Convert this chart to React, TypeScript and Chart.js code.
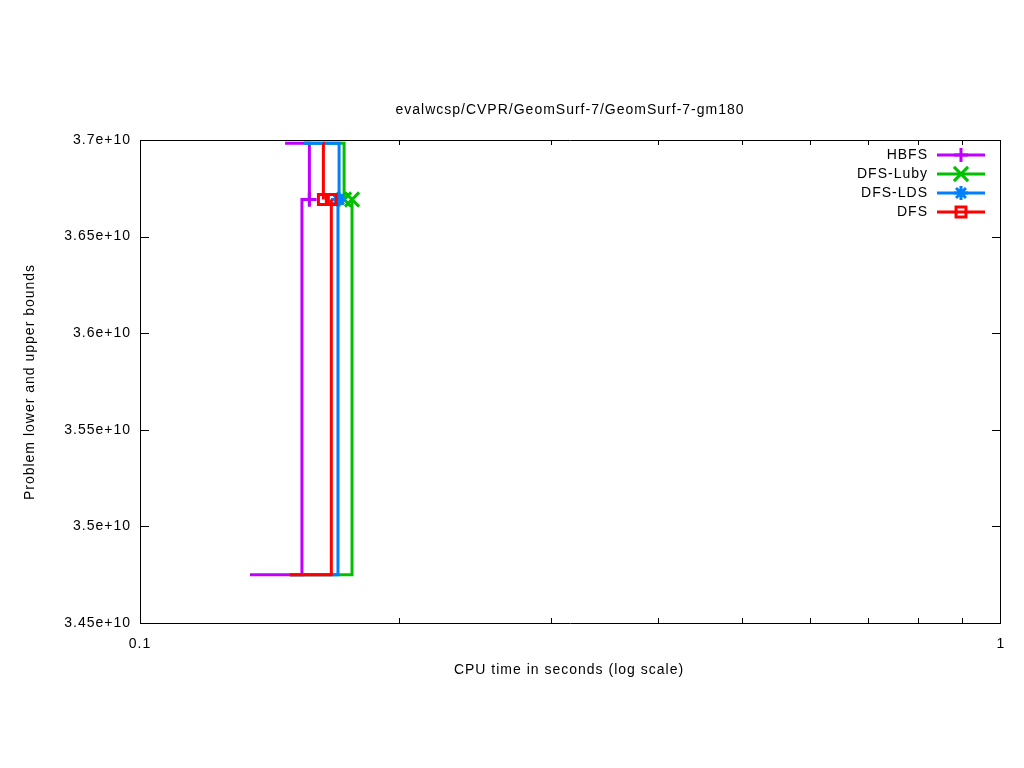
import React, { useEffect, useRef } from 'react';
import { Chart, registerables } from 'chart.js';

Chart.register(...registerables);

const TITLE = 'evalwcsp/CVPR/GeomSurf-7/GeomSurf-7-gm180';
const X_TITLE = 'CPU time in seconds (log scale)';
const Y_TITLE = 'Problem lower and upper bounds';

const solverNames = ['HBFS', 'DFS-Luby', 'DFS-LDS', 'DFS'];
const solverColors = ['#c000ff', '#00c000', '#0080ff', '#ff0000'];
const solverMarkers = ['cross', 'crossRot', 'star', 'rect'];
const solverMarkerRadius = [7, 10, 7, 7];

// upper / lower bound step series (time in seconds, bound value)
const hbfsUpperTimes = [0.1474, 0.1573];
const hbfsUpperBounds = [3.6983e10, 3.6692e10];
const hbfsLowerTimes = [0.1342, 0.1542, 0.1573];
const hbfsLowerBounds = [3.475e10, 3.6692e10, 3.6692e10];

const lubyUpperTimes = [0.155, 0.1726];
const lubyUpperBounds = [3.6983e10, 3.6692e10];
const lubyLowerTimes = [0.1493, 0.1763];
const lubyLowerBounds = [3.475e10, 3.6692e10];

const ldsUpperTimes = [0.155, 0.1703];
const ldsUpperBounds = [3.6983e10, 3.6692e10];
const ldsLowerTimes = [0.1493, 0.1698];
const ldsLowerBounds = [3.475e10, 3.6692e10];

const dfsUpperTimes = [0.1632, 0.1633];
const dfsUpperBounds = [3.6983e10, 3.6692e10];
const dfsLowerTimes = [0.1493, 0.1668];
const dfsLowerBounds = [3.475e10, 3.6692e10];

const xTicks = [0.1, 1];
const xTickLabels = ['0.1', '1'];
const xMinorTicks = [0.2, 0.3, 0.4, 0.5, 0.6, 0.7, 0.8, 0.9];
const yTicks = [3.45e10, 3.5e10, 3.55e10, 3.6e10, 3.65e10, 3.7e10];
const yTickLabels = ['3.45e+10', '3.5e+10', '3.55e+10', '3.6e+10', '3.65e+10', '3.7e+10'];

const FONT = '14px "Liberation Sans", Arial, sans-serif';
const LINE_W = 3;

const seriesData = [
  [hbfsUpperTimes, hbfsUpperBounds, hbfsLowerTimes, hbfsLowerBounds],
  [lubyUpperTimes, lubyUpperBounds, lubyLowerTimes, lubyLowerBounds],
  [ldsUpperTimes, ldsUpperBounds, ldsLowerTimes, ldsLowerBounds],
  [dfsUpperTimes, dfsUpperBounds, dfsLowerTimes, dfsLowerBounds],
];

function toPoints(xs: number[], ys: number[]) {
  return xs.map((x, i) => ({ x, y: ys[i] }));
}

function drawMarker(ctx: CanvasRenderingContext2D, style: string, x: number, y: number, r: number) {
  ctx.beginPath();
  if (style === 'cross') {
    ctx.moveTo(x - r, y); ctx.lineTo(x + r, y);
    ctx.moveTo(x, y - r); ctx.lineTo(x, y + r);
  } else if (style === 'crossRot') {
    const d = r * Math.SQRT1_2;
    ctx.moveTo(x - d, y - d); ctx.lineTo(x + d, y + d);
    ctx.moveTo(x + d, y - d); ctx.lineTo(x - d, y + d);
  } else if (style === 'star') {
    const d = r * Math.SQRT1_2;
    ctx.moveTo(x - r, y); ctx.lineTo(x + r, y);
    ctx.moveTo(x, y - r); ctx.lineTo(x, y + r);
    ctx.moveTo(x - d, y - d); ctx.lineTo(x + d, y + d);
    ctx.moveTo(x + d, y - d); ctx.lineTo(x - d, y + d);
  } else {
    const s = r * Math.SQRT1_2;
    ctx.rect(x - s, y - s, 2 * s, 2 * s);
  }
  ctx.stroke();
}

const framePlugin = {
  id: 'gnuplotFrame',
  beforeDraw(chart: any) {
    (chart.ctx as any).letterSpacing = '1px';
  },
  afterDraw(chart: any) {
    const ctx: CanvasRenderingContext2D = chart.ctx;
    const { left, right, top, bottom } = chart.chartArea;
    const xs = chart.scales.x;
    const ys = chart.scales.y;
    ctx.save();
    (ctx as any).letterSpacing = '1px';
    ctx.strokeStyle = '#000';
    ctx.lineWidth = 1;
    ctx.beginPath();
    ctx.rect(left + 0.5, top + 0.5, right - left - 1, bottom - top);
    // y ticks (major, both sides, inward)
    yTicks.forEach((v) => {
      const py = Math.round(ys.getPixelForValue(v)) + 0.5;
      ctx.moveTo(left, py); ctx.lineTo(left + 9, py);
      ctx.moveTo(right, py); ctx.lineTo(right - 9, py);
    });
    // x minor ticks (bottom and top, inward)
    xMinorTicks.forEach((v) => {
      const px = Math.round(xs.getPixelForValue(v)) + 0.5;
      ctx.moveTo(px, bottom); ctx.lineTo(px, bottom - 5);
      ctx.moveTo(px, top); ctx.lineTo(px, top + 5);
    });
    ctx.stroke();

    // titles
    ctx.fillStyle = '#000';
    ctx.font = FONT;
    ctx.textAlign = 'center';
    ctx.textBaseline = 'middle';
    ctx.fillText(TITLE, 570, 110);
    ctx.fillText(X_TITLE, 569, 670);
    ctx.save();
    ctx.translate(30, 382);
    ctx.rotate(-Math.PI / 2);
    ctx.fillText(Y_TITLE, 0, 0);
    ctx.restore();

    // legend
    solverNames.forEach((name, i) => {
      const y = 155 + i * 19;
      ctx.fillStyle = '#000';
      ctx.textAlign = 'right';
      ctx.fillText(name, 928, y);
      ctx.strokeStyle = solverColors[i];
      ctx.lineWidth = LINE_W;
      ctx.beginPath();
      ctx.moveTo(937, y); ctx.lineTo(985, y);
      ctx.stroke();
      drawMarker(ctx, solverMarkers[i], 961, y, solverMarkerRadius[i]);
    });
    ctx.restore();
  },
};

export default function App() {
  const canvasRef = useRef<HTMLCanvasElement | null>(null);

  useEffect(() => {
    if (!canvasRef.current) return;
    const datasets: any[] = [];
    // later solvers drawn on top: put them first
    for (let i = solverNames.length - 1; i >= 0; i--) {
      const [ut, ub, lt, lb] = seriesData[i];
      const mk = (pts: any[], label: string) => ({
        label,
        data: pts,
        showLine: true,
        stepped: 'before',
        borderColor: solverColors[i],
        backgroundColor: 'rgba(0,0,0,0)',
        borderWidth: LINE_W,
        pointStyle: solverMarkers[i],
        pointRadius: (c: any) => (c.dataIndex === pts.length - 1 ? solverMarkerRadius[i] : 0),
        pointHoverRadius: 0,
        pointBorderWidth: LINE_W,
        pointBorderColor: solverColors[i],
        pointBackgroundColor: 'rgba(0,0,0,0)',
        clip: false,
      });
      datasets.push(mk(toPoints(ut, ub), solverNames[i] + ' upper'));
      datasets.push(mk(toPoints(lt, lb), solverNames[i] + ' lower'));
    }

    const chart = new Chart(canvasRef.current, {
      type: 'scatter',
      data: { datasets },
      plugins: [framePlugin],
      options: {
        responsive: false,
        animation: false,
        events: [],
        layout: { padding: { top: 140, right: 23, left: 0, bottom: 0 } },
        plugins: {
          legend: { display: false },
          title: { display: false },
          tooltip: { enabled: false },
        },
        scales: {
          x: {
            type: 'logarithmic',
            min: 0.1,
            max: 1,
            grid: { display: false, drawTicks: false },
            border: { display: false },
            afterBuildTicks: (s: any) => {
              s.ticks = xTicks.map((v) => ({ value: v }));
            },
            afterFit: (s: any) => {
              s.height = 145;
            },
            ticks: {
              autoSkip: false,
              maxRotation: 0,
              padding: 13,
              color: '#000',
              font: { family: '"Liberation Sans", Arial, sans-serif', size: 14 },
              callback: (v: any) => {
                const idx = xTicks.findIndex((t) => Math.abs(t - Number(v)) < 1e-9);
                return idx >= 0 ? xTickLabels[idx] : '';
              },
            },
          },
          y: {
            type: 'linear',
            min: 3.45e10,
            max: 3.7e10,
            grid: { display: false, drawTicks: false },
            border: { display: false },
            afterBuildTicks: (s: any) => {
              s.ticks = yTicks.map((v) => ({ value: v }));
            },
            afterFit: (s: any) => {
              s.width = 140;
            },
            ticks: {
              autoSkip: false,
              padding: 9,
              color: '#000',
              font: { family: '"Liberation Sans", Arial, sans-serif', size: 14 },
              callback: (v: any) => {
                const idx = yTicks.findIndex((t) => Math.abs(t - Number(v)) < 1);
                return idx >= 0 ? yTickLabels[idx] : '';
              },
            },
          },
        },
      } as any,
    });
    return () => chart.destroy();
  }, []);

  return (
    <div style={{ position: 'fixed', left: 0, top: 0, width: 1024, height: 768, background: '#fff' }}>
      <canvas ref={canvasRef} width={1024} height={768} style={{ display: 'block' }} />
    </div>
  );
}
